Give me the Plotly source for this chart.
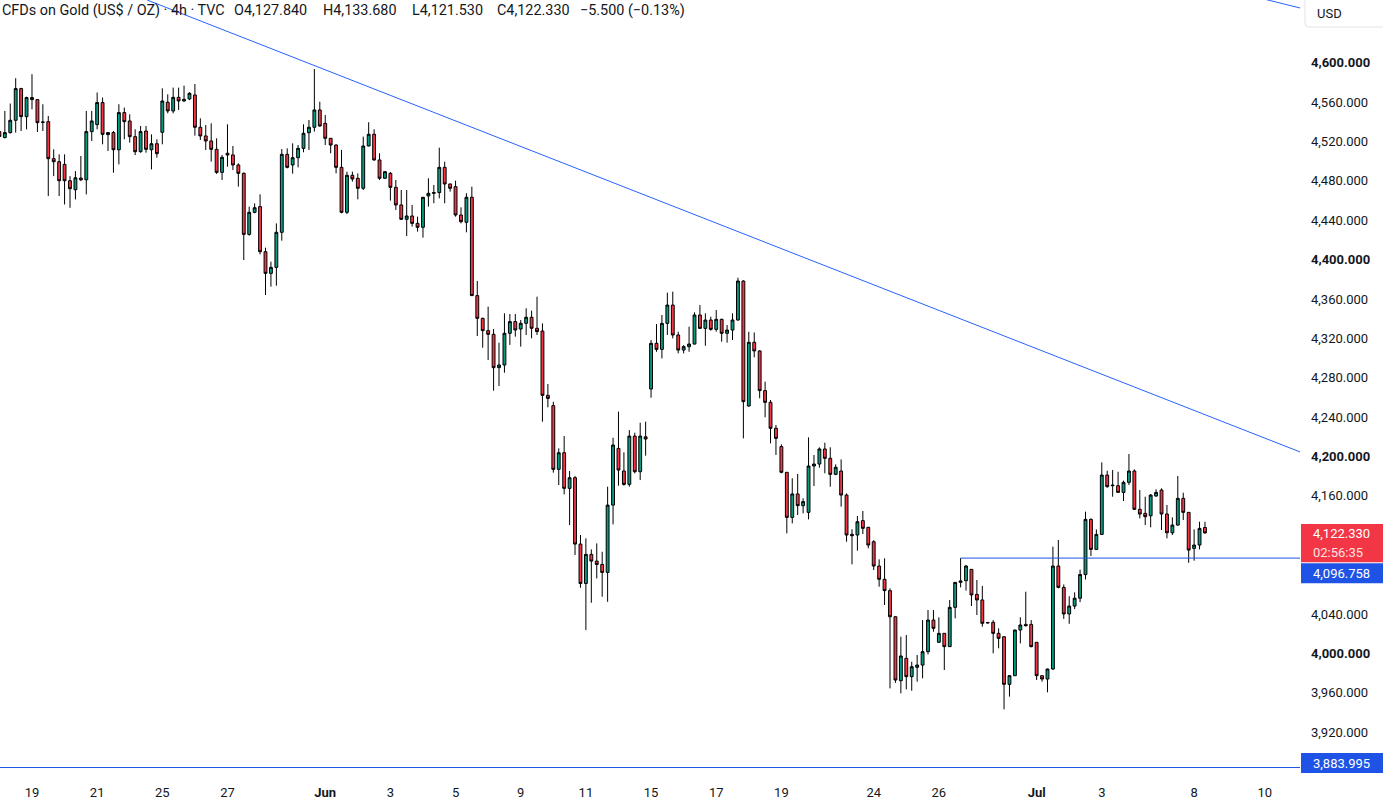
import plotly.graph_objects as go

# ---------------- data (4h candles) ----------------
OPEN = [4530, 4523.9, 4529, 4541.5, 4573.7, 4545.2, 4564.6, 4562.5, 4539.8, 4540.1,
        4502.5, 4499.4, 4496.7, 4480.1, 4471, 4482.8, 4481.1, 4530, 4537.1, 4559.5,
        4526.9, 4529, 4511.6, 4549.3, 4540.8, 4524.9, 4509.6, 4530.6, 4511.6, 4517.7,
        4529.3, 4559.8, 4551, 4564.8, 4561.1, 4563.2, 4567.2, 4534.4, 4525.6, 4520.5,
        4512, 4488.6, 4508, 4506.3, 4496.1, 4487.6, 4425.6, 4448, 4453.8, 4408,
        4386, 4392.1, 4427.7, 4506.9, 4496.1, 4503.5, 4513, 4528.9, 4534.4, 4552,
        4538.4, 4523.2, 4516.4, 4493.7, 4448, 4485.6, 4482.6, 4472.4, 4515.4, 4527.3,
        4501.2, 4482.6, 4487.6, 4473.4, 4455.5, 4440.9, 4444.3, 4436.8, 4432.8, 4464.6,
        4467.3, 4468, 4493.7, 4476.8, 4474.1, 4445.3, 4437.9, 4463.3, 4363.4, 4340.3,
        4327.8, 4324.1, 4290.2, 4292.9, 4325.1, 4337, 4329.5, 4335.3, 4341.4, 4330.2,
        4327.4, 4262.1, 4251.6, 4186.9, 4203.8, 4167.6, 4178.4, 4111, 4071, 4100.5,
        4093.7, 4090.3, 4082.2, 4150.6, 4208.2, 4185.2, 4171.6, 4220.7, 4184.5, 4220,
        4268.5, 4314.9, 4308.8, 4335.2, 4353.8, 4323.4, 4308.1, 4311.5, 4314.2, 4343.7,
        4330.1, 4338.6, 4329.1, 4339.3, 4325.1, 4328.4, 4338.6, 4378.2, 4251.3, 4316,
        4307.2, 4266.9, 4255, 4228.6, 4210, 4183.9, 4138.1, 4161.9, 4150, 4143.2,
        4190.3, 4192.3, 4207.6, 4198.1, 4181.8, 4185.2, 4160.8, 4120.9, 4120.2, 4134.8,
        4128, 4113.4, 4088.7, 4075.2, 4063.7, 4037.2, 3972.2, 3994.9, 3976.3, 3985.8,
        3988.1, 4001.7, 4033.8, 4011.2, 4020.3, 4006.8, 4046.7, 4072.1, 4073.8, 4085.3,
        4059.9, 4054.2, 4031.2, 4031.5, 4020.3, 4016.9, 3968.5, 3977.3, 4023.7, 4029.4,
        4029.4, 4011.2, 3977.3, 3973.9, 3984.1, 4088.7, 4067, 4040, 4048, 4056,
        4080, 4136.1, 4105.6, 4120.8, 4181.1, 4171, 4170.3, 4163.5, 4173.7, 4185.2,
        4146.3, 4142.2, 4139.8, 4159.8, 4165.9, 4141.5, 4122.5, 4130.3, 4157.4, 4143.2,
        4106.6, 4110, 4127.84]

HIGH = [4532, 4551, 4558.5, 4584.2, 4574.5, 4565.5, 4588.3, 4563, 4557.8, 4545.9,
        4512, 4506.9, 4506.9, 4484.8, 4489.9, 4505.2, 4551, 4551, 4569.7, 4564.6,
        4529.5, 4530.6, 4557.8, 4554.4, 4547.6, 4532.3, 4535.7, 4535.7, 4527.2, 4522.2,
        4574, 4567.9, 4574.7, 4574.7, 4576.7, 4570, 4578.4, 4543.5, 4536.7, 4538.4,
        4523.2, 4506.3, 4537.4, 4515.4, 4497.8, 4488.6, 4453.8, 4457.1, 4466.3, 4412.1,
        4397.9, 4436.8, 4512.3, 4513, 4518.1, 4516.4, 4537.4, 4541.8, 4593.6, 4560.4,
        4546.9, 4523.5, 4517.1, 4511.4, 4489.3, 4489.3, 4487.6, 4524.9, 4539.5, 4532.4,
        4508, 4490, 4489, 4480.9, 4470.7, 4470.7, 4455.5, 4443.6, 4463.5, 4482.6,
        4475.8, 4513.7, 4499.5, 4477.2, 4480.2, 4453.1, 4467.4, 4474.1, 4378.3, 4341,
        4352.2, 4329.5, 4315.6, 4345.4, 4344.7, 4344.7, 4338.6, 4350.5, 4348.1, 4362.3,
        4335.2, 4273.6, 4255.6, 4208.2, 4220.7, 4185.2, 4180.1, 4120.2, 4116.8, 4105.6,
        4111.7, 4103.2, 4169.3, 4219, 4245.5, 4204.2, 4226.8, 4224.1, 4234.3, 4235.3,
        4318.3, 4334.5, 4343.7, 4366.4, 4367.4, 4326.7, 4313.2, 4331.8, 4346.4, 4353.8,
        4345.4, 4342, 4348.8, 4340, 4333.5, 4345.4, 4381.6, 4379, 4326.7, 4326,
        4308, 4276, 4257.4, 4232, 4212.3, 4184.2, 4177.8, 4182.2, 4157.5, 4219.4,
        4201.5, 4209.3, 4214, 4209.3, 4192, 4197, 4162.5, 4126, 4139.5, 4144.6,
        4128.5, 4115, 4095.5, 4096.5, 4066, 4037.5, 4016.9, 4018.6, 3991.5, 3998.3,
        4033.8, 4044, 4044, 4036.6, 4020.5, 4054.2, 4072.4, 4096.758, 4089.7, 4085.6,
        4074.5, 4068.4, 4032, 4033.8, 4025.4, 4017.2, 3977.5, 4024, 4036.6, 4062.6,
        4033.8, 4011.5, 3977.6, 3984.4, 4108.4, 4115.1, 4070, 4058, 4062, 4085,
        4143.9, 4137.1, 4125.9, 4194, 4185.5, 4186.2, 4184.5, 4175.4, 4202.5, 4186.9,
        4165.9, 4159.1, 4161.8, 4166.6, 4167.6, 4150.7, 4138.1, 4180.1, 4163.2, 4143.5,
        4125.9, 4133.7, 4133.68]

LOW = [4522, 4523.2, 4528, 4529, 4530.6, 4532.3, 4552.7, 4529.6, 4530.6, 4464.5,
       4484.8, 4464.5, 4456, 4452.6, 4461.1, 4479.7, 4466.2, 4520.5, 4532.3, 4517.1,
       4510.3, 4488.2, 4496.7, 4522.2, 4518.8, 4506.2, 4508.6, 4508.6, 4491.6, 4503.5,
       4517.1, 4548.6, 4548.6, 4552, 4560.4, 4562, 4525.9, 4521.5, 4511.3, 4499.5,
       4487, 4480.8, 4494.4, 4491, 4474.1, 4399.6, 4424.3, 4447, 4405.3, 4364,
       4372.5, 4373.5, 4419.2, 4492.7, 4487.3, 4493.7, 4509, 4511.3, 4530, 4535,
       4516.4, 4508, 4487.6, 4447, 4446.3, 4479.2, 4461.2, 4470.7, 4515, 4500.5,
       4480.9, 4481.9, 4459.9, 4450.4, 4440.2, 4424, 4433.5, 4428.4, 4422.3, 4453.8,
       4457.2, 4462.2, 4457.2, 4469, 4443.6, 4436.8, 4427.7, 4363, 4322.4, 4310.5,
       4298, 4266.8, 4271.6, 4285.1, 4313.3, 4321.7, 4311.6, 4323.4, 4320, 4323.4,
       4235.3, 4249.9, 4183.5, 4171, 4161.5, 4130.3, 4099.8, 4066.6, 4023.6, 4051.4,
       4076.1, 4057.5, 4052.4, 4131, 4170.3, 4170.3, 4169.3, 4182.8, 4176, 4200.8,
       4259.7, 4306.4, 4299.6, 4323.4, 4320, 4304.7, 4304.7, 4306.4, 4313.8, 4329.8,
       4312.5, 4327.8, 4326.7, 4316.6, 4315.6, 4318.3, 4338, 4218.4, 4250.5, 4300.7,
       4259.1, 4239.8, 4213.3, 4201.5, 4182.9, 4121.9, 4132, 4140.5, 4142.2, 4136.1,
       4170, 4188.6, 4182.9, 4169.3, 4181, 4149, 4113.4, 4090.4, 4104.3, 4121.2,
       4106.7, 4084.6, 4067.7, 4049.1, 3964.4, 3970, 3959.3, 3963.4, 3962, 3971.2,
       3974.6, 3999, 4022, 4010.8, 3983.1, 4006.5, 4035.5, 4067, 4063.7, 4048.1,
       4038.9, 4027.1, 4030.5, 4000, 4005.1, 3943.1, 3956, 3977, 4010.1, 4027.1,
       4006.1, 3972.9, 3971.2, 3960.4, 3983.1, 4066, 4035, 4030, 4045, 4052,
       4075, 4098.8, 4104.9, 4120.2, 4168.3, 4159.1, 4163.2, 4154.7, 4171, 4145.6,
       4137.1, 4130.3, 4128, 4159.1, 4125.3, 4116.8, 4120.2, 4129.7, 4135.4, 4092,
       4094.1, 4105.6, 4121.53]

CLOSE = [4525, 4529, 4541.5, 4573.7, 4545.2, 4564.6, 4562.5, 4539.1, 4539.5, 4502.5,
         4499.4, 4480.1, 4480.1, 4472, 4483.1, 4481.1, 4530, 4540.8, 4559.5, 4527.2,
         4529, 4511.6, 4549.3, 4540.1, 4524.9, 4509.6, 4530, 4512, 4517.7, 4507.6,
         4561.1, 4551, 4564.8, 4561.1, 4562.8, 4568.9, 4534.4, 4525.6, 4520.5, 4512,
         4488.6, 4503.9, 4506.3, 4496.1, 4487.6, 4425.6, 4448, 4452.7, 4408, 4386,
         4392.1, 4427.7, 4506.9, 4493.7, 4503.5, 4513, 4528.3, 4534.4, 4552, 4535.7,
         4523.2, 4516.4, 4493.7, 4448, 4485.6, 4481.9, 4472.4, 4515.4, 4527.3, 4501.2,
         4482.6, 4489.3, 4473.4, 4455.5, 4440.9, 4444.3, 4436.8, 4432.8, 4463.3, 4467.3,
         4468, 4493.7, 4476.8, 4472.4, 4445.3, 4438.5, 4463.3, 4363.4, 4340.3, 4327.8,
         4324.1, 4290.2, 4292.9, 4325.1, 4337, 4328.5, 4335.3, 4341.4, 4330.2, 4326.8,
         4262.1, 4259, 4186.9, 4203.8, 4167.6, 4178.4, 4111, 4071, 4100.5, 4093.7,
         4090.3, 4082.2, 4150.6, 4211.6, 4186.2, 4171.6, 4220.7, 4184.5, 4220.7, 4217.7,
         4314.9, 4308.8, 4335.2, 4353.8, 4323.4, 4308.1, 4311.5, 4314.2, 4343.7, 4330.1,
         4338.6, 4329.1, 4339.3, 4325.1, 4328.4, 4338.6, 4378.2, 4255.7, 4316, 4307.2,
         4266.9, 4255, 4228.6, 4218.4, 4183.9, 4138.1, 4161.9, 4150, 4154.1, 4190.3,
         4192.3, 4207.6, 4198.1, 4181.8, 4189, 4160.8, 4120.2, 4119.5, 4133.7, 4127,
         4110, 4088.7, 4075.2, 4063.7, 4037.2, 3972.9, 3997.3, 3976.3, 3986.4, 3988.1,
         4001.7, 4033.8, 4025.4, 4020.3, 4006.8, 4046.7, 4072.1, 4073.5, 4088.7, 4059.3,
         4054.2, 4030.5, 4031, 4020.3, 4015.2, 3968.5, 3977.3, 4023.7, 4028.8, 4028.1,
         4006.8, 3977.3, 3973.9, 3984.1, 4088.7, 4067, 4040, 4048, 4056, 4080,
         4136.1, 4105.6, 4120.8, 4181.1, 4169.3, 4170.4, 4163.5, 4173.7, 4185.2, 4146.3,
         4141.5, 4138.8, 4160.8, 4163.5, 4141.5, 4122.5, 4130.3, 4157.4, 4143.2, 4104.9,
         4110, 4126.9, 4122.33]

BAR_INDEX = list(range(len(OPEN)))

# date ticks (bar index of first bar of the day, label)
TICK_IDX = [6, 18, 30, 42, 60, 72, 84, 96, 108, 120, 132, 144, 161, 173, 191, 203, 220, 233]
TICK_TXT = ["19", "21", "25", "27", "<b>Jun</b>", "3", "5", "9", "11", "15", "17", "19",
            "24", "26", "<b>Jul</b>", "3", "8", "10"]

PRICE_TICKS = [3920, 3960, 4000, 4040, 4160, 4200, 4240, 4280, 4320, 4360, 4400,
               4440, 4480, 4520, 4560, 4600]

# drawings
TREND_X = [27.2, 239.5]
TREND_Y = [4663.7, 4204.6]
TREND2_X = [220, 239.5]
TREND2_Y = [4682.3, 4655.6]
HLINE_LEVEL = 4096.758
HLINE_START = 177
BOTTOM_LEVEL = 3883.995
LAST_CLOSE = CLOSE[-1]
COUNTDOWN = "02:56:35"
CHANGE = -5.500
CHANGE_PCT = -0.13

X_RANGE = [0.11, 239.5]
Y_RANGE = [3882.5, 4663.7]

# ---------------- layout constants ----------------
W, H = 1383, 807
ML, MR, MT, MB = 0, 83, 0, 38
PW, PH = W - ML - MR, H - MT - MB

GREEN = "#089981"
RED = "#F23645"
BLUE = "#2962FF"
BOXBLUE = "#1E53E5"
TXT = "#131722"
FONT = "Roboto, Liberation Sans, sans-serif"
HEAD_SIZE = 14.4


def py_price(p):
    return (p - Y_RANGE[0]) / (Y_RANGE[1] - Y_RANGE[0])


def dpx(px):
    return px / PH


def xpx(px):
    return px / PW


fig = go.Figure()
fig.add_trace(go.Candlestick(
    x=BAR_INDEX, open=OPEN, high=HIGH, low=LOW, close=CLOSE,
    increasing=dict(fillcolor=GREEN, line=dict(color="#000000", width=1)),
    decreasing=dict(fillcolor=RED, line=dict(color="#000000", width=1)),
    whiskerwidth=0, showlegend=False, hoverinfo="skip",
))

shapes = []
shapes.append(dict(type="line", xref="x", yref="y", x0=TREND_X[0], y0=TREND_Y[0],
                   x1=TREND_X[1], y1=TREND_Y[1], line=dict(color=BLUE, width=1)))
shapes.append(dict(type="line", xref="x", yref="y", x0=TREND2_X[0], y0=TREND2_Y[0],
                   x1=TREND2_X[1], y1=TREND2_Y[1], line=dict(color=BLUE, width=1)))
shapes.append(dict(type="line", xref="x", yref="y", x0=HLINE_START, y0=HLINE_LEVEL,
                   x1=X_RANGE[1], y1=HLINE_LEVEL, line=dict(color=BOXBLUE, width=1)))
shapes.append(dict(type="line", xref="x", yref="y", x0=X_RANGE[0], y0=BOTTOM_LEVEL,
                   x1=X_RANGE[1], y1=BOTTOM_LEVEL, line=dict(color=BOXBLUE, width=1)))

xb0 = 1 + xpx(1)
xb1 = 1 + xpx(90)
yc = py_price(LAST_CLOSE)
red_top = yc + dpx(8.9)
red_bot = yc - dpx(29.4)
shapes.append(dict(type="rect", xref="paper", yref="paper", x0=xb0, x1=xb1,
                   y0=red_bot, y1=red_top, fillcolor=RED, line=dict(width=0), layer="above"))
blue_top = red_bot - dpx(1)
blue_bot = blue_top - dpx(20)
shapes.append(dict(type="rect", xref="paper", yref="paper", x0=xb0, x1=xb1,
                   y0=blue_bot, y1=blue_top, fillcolor=BOXBLUE, line=dict(width=0), layer="above"))
bot_bot = -dpx(4)
bot_top = bot_bot + dpx(20)
shapes.append(dict(type="rect", xref="paper", yref="paper", x0=xb0, x1=xb1,
                   y0=bot_bot, y1=bot_top, fillcolor=BOXBLUE, line=dict(width=0), layer="above"))

ux0 = 1 + xpx(5)
ux1 = 1 + xpx(95)
uy0 = 1 - dpx(27)
uyt = 1 + dpx(3)
r_x = xpx(4)
r_y = dpx(4)
path = (f"M {ux0},{uyt} L {ux0},{uy0 + r_y} Q {ux0},{uy0} {ux0 + r_x},{uy0} "
        f"L {ux1},{uy0} L {ux1},{uyt} Z")
shapes.append(dict(type="path", xref="paper", yref="paper", path=path,
                   fillcolor="#FFFFFF", line=dict(color="#E0E3EB", width=1), layer="above"))

annotations = []
tx = 1 + xpx(10.5)


def label(x, y, text, color, size=13):
    annotations.append(dict(xref="paper", yref="paper", x=x, y=y, xanchor="left",
                            yanchor="middle", showarrow=False, text=text,
                            font=dict(family=FONT, size=size, color=color)))


label(tx, red_top - dpx(9), f"{LAST_CLOSE:,.3f}", "#FFFFFF")
label(tx, red_top - dpx(28), COUNTDOWN, "#FDE2E4")
label(tx, (blue_top + blue_bot) / 2, f"{HLINE_LEVEL:,.3f}", "#FFFFFF")
label(tx, (bot_top + bot_bot) / 2, f"{BOTTOM_LEVEL:,.3f}", "#FFFFFF")
label(1 + xpx(15), 1 - dpx(13), "USD", TXT)

# header legend, group by group
o, h, l, c = OPEN[-1], HIGH[-1], LOW[-1], CLOSE[-1]
HEAD_Y = 1 - dpx(11)
label(0, HEAD_Y, "CFDs on Gold (US$ / OZ) · 4h · TVC", TXT, HEAD_SIZE)
groups = [("O", o, 232), ("H", h, 321), ("L", l, 410), ("C", c, 495)]
for letter, val, px in groups:
    label(xpx(px), HEAD_Y, f"{letter}{val:,.3f}", TXT, HEAD_SIZE)
label(xpx(578), HEAD_Y, f"−{abs(CHANGE):.3f} (−{abs(CHANGE_PCT):.2f}%)", TXT, HEAD_SIZE)

price_text = [f"<b>{v:,.3f}</b>" if v % 200 == 0 else f"{v:,.3f}" for v in PRICE_TICKS]

fig.update_layout(
    width=W, height=H,
    margin=dict(l=ML, r=MR, t=MT, b=MB, pad=0),
    paper_bgcolor="#FFFFFF", plot_bgcolor="#FFFFFF",
    boxgap=0.25,
    showlegend=False,
    xaxis=dict(range=X_RANGE, tickvals=TICK_IDX, ticktext=TICK_TXT, showgrid=False,
               zeroline=False, showline=False, ticks="", rangeslider=dict(visible=False),
               tickfont=dict(family=FONT, size=13, color=TXT), ticklabelstandoff=14,
               fixedrange=True),
    yaxis=dict(range=Y_RANGE, side="right", tickvals=PRICE_TICKS, ticktext=price_text,
               showgrid=False, zeroline=False, showline=False, ticks="",
               tickfont=dict(family=FONT, size=13, color=TXT), ticklabelstandoff=10,
               fixedrange=True),
    shapes=shapes,
    annotations=annotations,
)

fig.write_html("out.html")
